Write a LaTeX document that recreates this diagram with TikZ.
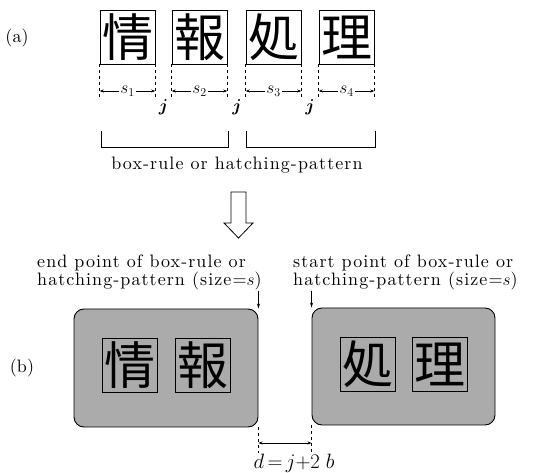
\documentclass[tikz,border=0pt]{standalone}
\usepackage{fontspec}
\usepackage{graphicx}
\usepackage{bm}
\newfontfamily\cjk{Noto Sans CJK JP}
\newfontfamily\lbl{lmroman10-regular.otf}[LetterSpace=6]
\newfontfamily\plainlm{lmroman10-regular.otf}
\usetikzlibrary{arrows.meta}
\begin{document}
\begin{tikzpicture}[x=1pt,y=-1pt,
  kan/.style={draw, line width=0.6pt, minimum width=55pt, minimum height=54pt, inner sep=0pt, font=\cjk\fontsize{51}{51}\selectfont},
  big/.style={draw, line width=0.9pt, rounded corners=10pt, fill=black!33, inner sep=0pt},
  ext/.style={dash pattern=on 3pt off 3pt, line width=0.6pt},
  dim/.style={line width=0.6pt, {Stealth[length=4pt,width=3pt]}-{Stealth[length=4pt,width=3pt]}},
  txt/.style={font=\lbl\fontsize{18}{15.5}\selectfont, inner sep=0pt},
  tag/.style={font=\plainlm\fontsize{18}{18}\selectfont, inner sep=0pt},
  slab/.style={fill=white, inner sep=1.5pt, font=\fontsize{17}{17}\selectfont},
  jlab/.style={inner sep=0pt, font=\fontsize{17}{17}\selectfont},
  down/.style={line width=0.6pt, -{Stealth[length=5pt,width=3pt]}}
]
\useasboundingbox (0,0) rectangle (550,473);

% (a) part
\node[tag] (la) at (17,38) {(a)};
\node[kan] (t1) at (127.5,37) {情};
\node[kan] (t2) at (199.5,37) {報};
\node[kan] (t3) at (273.5,37) {処};
\node[kan] (t4) at (346.5,37) {理};

\coordinate (ybot) at (0,97);
\coordinate (yar) at (0,91);
\foreach \n/\s in {t1/1,t2/2,t3/3,t4/4}{
  \draw[ext] (\n.south west) -- (\n.south west |- ybot);
  \draw[ext] (\n.south east) -- (\n.south east |- ybot);
  \draw[dim] (\n.south west |- yar) -- node[slab] {$s_{\s}$} (\n.south east |- yar);
}
\node[jlab] (j1) at (163.5,107) {$\bm{j}$};
\node[jlab] (j2) at (237,107) {$\bm{j}$};
\node[jlab] (j3) at (310,107) {$\bm{j}$};

\draw[line width=0.6pt] (101,131) -- (101,147) -- (228,147) -- (228,131);
\draw[line width=0.6pt] (246,131) -- (246,147) -- (375,147) -- (375,131);
\node[txt] (lbl1) at (237,165) {box-rule or hatching-pattern};

% hollow arrow
\draw[line width=0.8pt, fill=white] (231,192) -- (246,192) -- (246,223) -- (253,223) -- (238.5,238) -- (224,223) -- (231,223) -- cycle;

% (b) part
\node[txt, anchor=north west, align=left] (e1) at (37,255) {end point of box-rule or\\hatching-pattern (size=$s$)};
\node[txt, anchor=north west, align=left] (e2) at (293,255) {start point of box-rule or\\hatching-pattern (size=$s$)};

\node[tag] (lb) at (22,368) {(b)};
\node[big, minimum width=184pt, minimum height=118pt] (B1) at (166,368) {};
\node[big, minimum width=183pt, minimum height=117pt] (B2) at (403.5,366.5) {};

\node[kan, fill=black!33] (b1) at (129.5,365) {情};
\node[kan, fill=black!33] (b2) at (202.5,365) {報};
\node[kan, fill=black!33] (b3) at (367.5,364) {処};
\node[kan, fill=black!33] (b4) at (440,364) {理};

\draw[down] (B1.north east |- e1.south) -- (B1.north east);
\draw[down] (B2.north west |- e2.south) -- (B2.north west);

\coordinate (dy) at (0,453);
\coordinate (dy2) at (0,443);
\draw[ext] (B1.south east) -- (B1.south east |- dy);
\draw[ext] (B2.south west) -- (B2.south west |- dy);
\draw[dim] (B1.south east |- dy2) -- (B2.south west |- dy2);
\node[jlab, font=\fontsize{20}{20}\selectfont] (dl) at (294,463) {$d\,{=}\,j{+}2\;b$};
\end{tikzpicture}
\end{document}
